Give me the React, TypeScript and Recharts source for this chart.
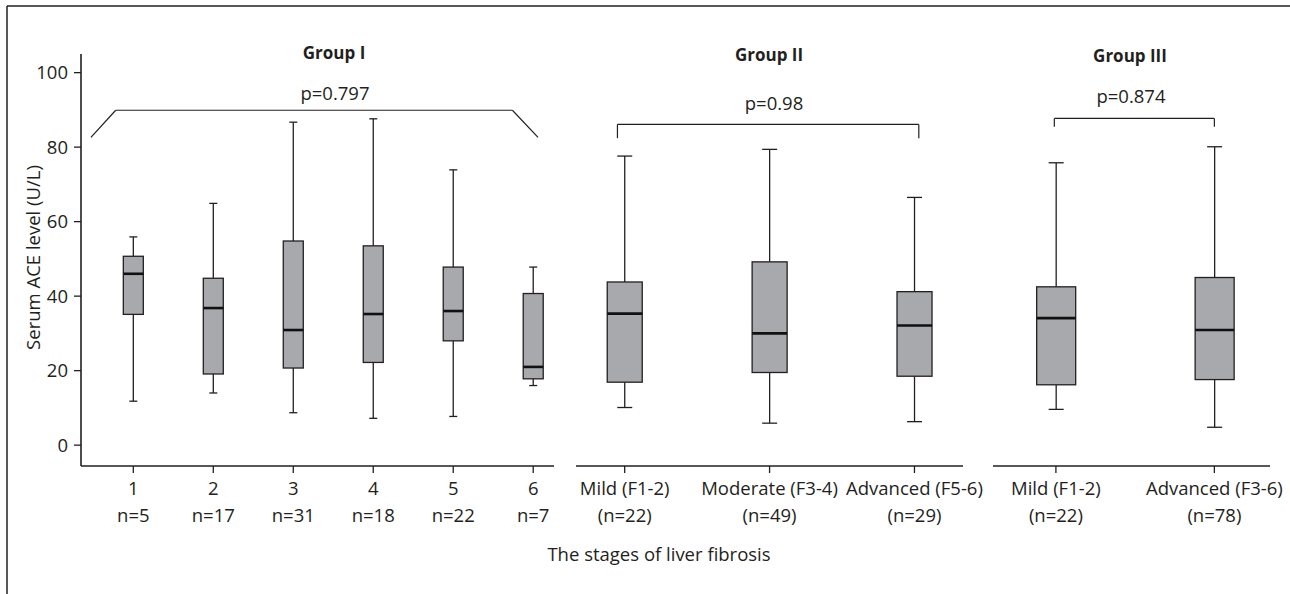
import { ComposedChart, Bar, XAxis, YAxis, ReferenceLine } from "recharts"

// Group I: fibrosis stages 1-6
const groupOneLabels = ["1", "2", "3", "4", "5", "6"]
const groupOneCounts = ["n=5", "n=17", "n=31", "n=18", "n=22", "n=7"]
const groupOneMin = [11.8, 14.0, 8.7, 7.2, 7.7, 16.0]
const groupOneQ1 = [35.1, 19.1, 20.7, 22.2, 28.0, 17.8]
const groupOneMedian = [46.0, 36.8, 30.9, 35.2, 36.0, 21.0]
const groupOneQ3 = [50.7, 44.8, 54.8, 53.5, 47.8, 40.7]
const groupOneMax = [55.9, 64.9, 86.7, 87.6, 73.9, 47.8]

// Group II
const groupTwoLabels = ["Mild (F1-2)", "Moderate (F3-4)", "Advanced (F5-6)"]
const groupTwoCounts = ["(n=22)", "(n=49)", "(n=29)"]
const groupTwoMin = [10.1, 5.9, 6.3]
const groupTwoQ1 = [16.9, 19.5, 18.5]
const groupTwoMedian = [35.3, 30.0, 32.1]
const groupTwoQ3 = [43.8, 49.2, 41.2]
const groupTwoMax = [77.6, 79.4, 66.5]

// Group III
const groupThreeLabels = ["Mild (F1-2)", "Advanced (F3-6)"]
const groupThreeCounts = ["(n=22)", "(n=78)"]
const groupThreeMin = [9.6, 4.8]
const groupThreeQ1 = [16.2, 17.6]
const groupThreeMedian = [34.1, 30.9]
const groupThreeQ3 = [42.5, 45.0]
const groupThreeMax = [75.8, 80.1]

const yTicks = [0, 20, 40, 60, 80, 100]
const yDomain = [-5.6, 105]

const FONT = '"Open Sans", sans-serif'
const INK = "#231f20"
const BOX_FILL = "#a7a9ac"
const TEXT_SIZE = 18.5

type Row = {
  pos: number
  label: string
  count: string
  min: number
  q1: number
  median: number
  q3: number
  max: number
  range: [number, number]
}

const buildRows = (
  labels: string[],
  counts: string[],
  mins: number[],
  q1s: number[],
  medians: number[],
  q3s: number[],
  maxs: number[]
): Row[] =>
  labels.map((label, i) => ({
    pos: i + 1,
    label,
    count: counts[i],
    min: mins[i],
    q1: q1s[i],
    median: medians[i],
    q3: q3s[i],
    max: maxs[i],
    range: [mins[i], maxs[i]],
  }))

const groupOne = buildRows(groupOneLabels, groupOneCounts, groupOneMin, groupOneQ1, groupOneMedian, groupOneQ3, groupOneMax)
const groupTwo = buildRows(groupTwoLabels, groupTwoCounts, groupTwoMin, groupTwoQ1, groupTwoMedian, groupTwoQ3, groupTwoMax)
const groupThree = buildRows(groupThreeLabels, groupThreeCounts, groupThreeMin, groupThreeQ1, groupThreeMedian, groupThreeQ3, groupThreeMax)

// box + whiskers drawn from the bar's own [min, max] pixel span
const makeBoxShape = (capWidth: number) => (props: any) => {
  const { x, y, width, height, payload } = props
  if (!payload) return null
  const top = Math.min(y, y + height)
  const h = Math.abs(height)
  const span = payload.max - payload.min
  const py = (v: number) => top + (h * (payload.max - v)) / span
  const cx = x + width / 2
  return (
    <g>
      <line x1={cx} x2={cx} y1={py(payload.max)} y2={py(payload.q3)} stroke={INK} strokeWidth={1.3} />
      <line x1={cx} x2={cx} y1={py(payload.q1)} y2={py(payload.min)} stroke={INK} strokeWidth={1.3} />
      <line x1={cx - capWidth / 2} x2={cx + capWidth / 2} y1={py(payload.max)} y2={py(payload.max)} stroke={INK} strokeWidth={1.3} />
      <line x1={cx - capWidth / 2} x2={cx + capWidth / 2} y1={py(payload.min)} y2={py(payload.min)} stroke={INK} strokeWidth={1.3} />
      <rect
        x={x}
        y={py(payload.q3)}
        width={width}
        height={py(payload.q1) - py(payload.q3)}
        fill={BOX_FILL}
        stroke={INK}
        strokeWidth={1.3}
      />
      <line x1={x} x2={x + width} y1={py(payload.median)} y2={py(payload.median)} stroke="#111" strokeWidth={2.6} />
    </g>
  )
}

const makeTick = (rows: Row[]) => (props: any) => {
  const { x, y, payload } = props
  const row = rows[Math.round(payload.value) - 1]
  if (!row) return null
  return (
    <text x={x} y={y} textAnchor="middle" fill={INK} fontFamily={FONT} fontSize={TEXT_SIZE}>
      <tspan x={x} dy={20}>{row.label}</tspan>
      <tspan x={x} dy={27}>{row.count}</tspan>
    </text>
  )
}

type Seg = [{ x: number; y: number }, { x: number; y: number }]

type PanelProps = {
  rows: Row[]
  left: number
  width: number
  marginLeft: number
  marginRight: number
  xDomain: [number, number]
  boxWidth: number
  capWidth: number
  showYAxis?: boolean
  bracket: Seg[]
}

const Panel = ({ rows, left, width, marginLeft, marginRight, xDomain, boxWidth, capWidth, showYAxis, bracket }: PanelProps) => (
  <div style={{ position: "absolute", left, top: 0 }}>
    <ComposedChart
      width={width}
      height={594}
      data={rows}
      margin={{ top: 54, right: marginRight, bottom: 98, left: marginLeft }}
    >
      <XAxis
        type="number"
        dataKey="pos"
        height={30}
        domain={xDomain}
        allowDataOverflow
        ticks={rows.map((r) => r.pos)}
        interval={0}
        tickSize={7}
        tickMargin={2}
        axisLine={{ stroke: INK, strokeWidth: 1.6 }}
        tickLine={{ stroke: INK, strokeWidth: 1.3 }}
        tick={makeTick(rows)}
      />
      <YAxis
        hide={!showYAxis}
        width={81}
        domain={yDomain}
        allowDataOverflow
        ticks={yTicks}
        interval={0}
        tickSize={7}
        tickMargin={6}
        axisLine={{ stroke: INK, strokeWidth: 1.6 }}
        tickLine={{ stroke: INK, strokeWidth: 1.3 }}
        tick={{ fill: INK, fontSize: TEXT_SIZE, fontFamily: FONT }}
      />
      {bracket.map((seg, i) => (
        <ReferenceLine key={i} segment={seg} stroke={INK} strokeWidth={1.2} ifOverflow="visible" />
      ))}
      <Bar dataKey="range" barSize={boxWidth} shape={makeBoxShape(capWidth)} isAnimationActive={false} />
    </ComposedChart>
  </div>
)

const groupOneBracket: Seg[] = [
  [{ x: 0.47, y: 82.6 }, { x: 0.78, y: 89.9 }],
  [{ x: 0.78, y: 89.9 }, { x: 5.74, y: 89.9 }],
  [{ x: 5.74, y: 89.9 }, { x: 6.06, y: 82.6 }],
]
const groupTwoBracket: Seg[] = [
  [{ x: 0.95, y: 82.4 }, { x: 0.95, y: 86.1 }],
  [{ x: 0.95, y: 86.1 }, { x: 3.03, y: 86.1 }],
  [{ x: 3.03, y: 86.1 }, { x: 3.03, y: 82.4 }],
]
const groupThreeBracket: Seg[] = [
  [{ x: 0.99, y: 85.5 }, { x: 0.99, y: 87.7 }],
  [{ x: 0.99, y: 87.7 }, { x: 2.0, y: 87.7 }],
  [{ x: 2.0, y: 87.7 }, { x: 2.0, y: 85.5 }],
]

const App = () => {
  const textStyle = { fontFamily: FONT, fill: INK }
  return (
    <div style={{ position: "absolute", left: 0, top: 0, width: 1290, height: 594, background: "#fff", overflow: "hidden" }}>
      <Panel
        rows={groupOne}
        left={0}
        width={566}
        marginLeft={0}
        marginRight={12}
        xDomain={[0.346, 6.26]}
        boxWidth={20}
        capWidth={8}
        showYAxis
        bracket={groupOneBracket}
      />
      <Panel
        rows={groupTwo}
        left={560}
        width={430}
        marginLeft={16}
        marginRight={27}
        xDomain={[0.664, 3.335]}
        boxWidth={35}
        capWidth={15}
        bracket={groupTwoBracket}
      />
      <Panel
        rows={groupThree}
        left={975}
        width={315}
        marginLeft={18}
        marginRight={20}
        xDomain={[0.603, 2.351]}
        boxWidth={39}
        capWidth={15}
        bracket={groupThreeBracket}
      />
      {/* titles, p-values, axis titles and frame */}
      <svg width={1290} height={594} style={{ position: "absolute", left: 0, top: 0, pointerEvents: "none" }}>
        <line x1={7} y1={6} x2={1290} y2={6} stroke={INK} strokeWidth={1.5} />
        <line x1={7} y1={6} x2={7} y2={594} stroke={INK} strokeWidth={1.5} />
        <text x={334} y={59} textAnchor="middle" fontSize={17} fontWeight="bold" style={textStyle}>Group I</text>
        <text x={769} y={61} textAnchor="middle" fontSize={17} fontWeight="bold" style={textStyle}>Group II</text>
        <text x={1130} y={62} textAnchor="middle" fontSize={17} fontWeight="bold" style={textStyle}>Group III</text>
        <text x={335} y={100} textAnchor="middle" fontSize={TEXT_SIZE} style={textStyle}>p=0.797</text>
        <text x={774} y={110} textAnchor="middle" fontSize={TEXT_SIZE} style={textStyle}>p=0.98</text>
        <text x={1131} y={103} textAnchor="middle" fontSize={TEXT_SIZE} style={textStyle}>p=0.874</text>
        <text x={659} y={561} textAnchor="middle" fontSize={TEXT_SIZE} style={textStyle}>The stages of liver fibrosis</text>
        <text transform="translate(40, 257.5) rotate(-90)" textAnchor="middle" fontSize={TEXT_SIZE} style={textStyle}>
          Serum ACE level (U/L)
        </text>
      </svg>
    </div>
  )
}

export default App
